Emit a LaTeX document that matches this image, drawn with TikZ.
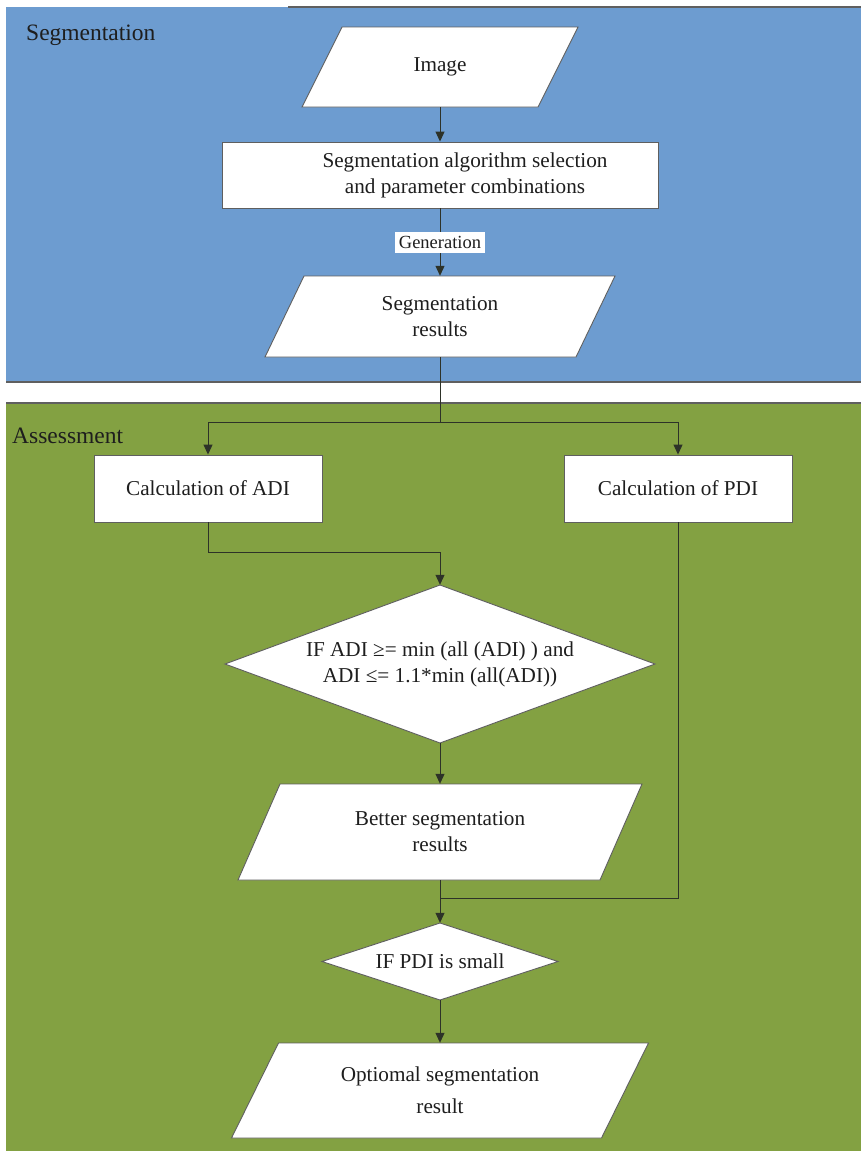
\documentclass[tikz,border=0pt]{standalone}
\usepackage{fontspec}
\setmainfont{Liberation Serif}
\usetikzlibrary{arrows.meta,calc}
\definecolor{segblue}{RGB}{109,156,208}
\definecolor{assgreen}{RGB}{131,161,66}
\definecolor{edgegray}{RGB}{95,95,95}
\definecolor{wirecol}{RGB}{45,50,40}
\definecolor{txtcol}{RGB}{30,30,30}
\tikzset{
  boxline/.style={fill=white, draw=edgegray, line width=0.9pt},
  txt/.style={inner sep=0pt, align=center, text=txtcol, font=\fontsize{21.2}{26}\selectfont},
  rectbox/.style={boxline, txt},
  paneltitle/.style={inner sep=0pt, text=txtcol, font=\fontsize{23.5}{28}\selectfont},
  panelline/.style={draw=edgegray, line width=1.2pt},
  wire/.style={draw=wirecol, line width=1pt},
  arr/.style={wire, -{Triangle[width=9pt,length=10pt]}},
  genlabel/.style={fill=white, inner xsep=3.5pt, inner ysep=0pt, minimum height=21pt, text=txtcol, font=\fontsize{18.5}{22}\selectfont}
}
% parallelogram: name, cx, cy, edge width, height, slant, text
\newcommand\paraio[7]{%
  \coordinate (#1-c) at (#2,#3);
  \draw[boxline] ($(#1-c)+({-(#4)/2-(#6)/2},{(#5)/2})$) -- ($(#1-c)+({-(#4)/2+(#6)/2},{-(#5)/2})$) -- ($(#1-c)+({(#4)/2+(#6)/2},{-(#5)/2})$) -- ($(#1-c)+({(#4)/2-(#6)/2},{(#5)/2})$) -- cycle;
  \node[txt, minimum width=#4, minimum height=#5] (#1) at (#1-c) {#7};
}
% decision diamond: name, cx, cy, width, height, text
\newcommand\decis[6]{%
  \coordinate (#1-c) at (#2,#3);
  \draw[boxline] ($(#1-c)+(0,{-(#5)/2})$) -- ($(#1-c)+({(#4)/2},0)$) -- ($(#1-c)+(0,{(#5)/2})$) -- ($(#1-c)+({-(#4)/2},0)$) -- cycle;
  \node[txt, minimum width=#4, minimum height=#5] (#1) at (#1-c) {#6};
}
\begin{document}
\begin{tikzpicture}[x=1pt,y=-1pt]
\useasboundingbox (0,0) rectangle (861,1151);
% panels
\fill[segblue] (6,7) rectangle (861,382);
\fill[assgreen] (6,403) rectangle (861,1151);
\draw[panelline] (6,382) -- (861,382);
\draw[panelline] (6,403) -- (861,403);
\draw[panelline] (288,7) -- (861,7);
\node[paneltitle, anchor=base west] (segtitle) at (26,40) {Segmentation};
\node[paneltitle, anchor=base west] (asstitle) at (12,443) {Assessment};

% segmentation part
\paraio{img}{440}{67}{236}{80}{40}{Image}
\node[boxline, minimum width=436, minimum height=66] (sa) at (440,175) {};
\node[txt] (satext) at (465,175) {Segmentation algorithm selection\\and parameter combinations};
\paraio{segres}{440}{316.5}{311}{81}{39}{Segmentation\\results}

% assessment part
\node[rectbox, minimum width=228, minimum height=67] (adi) at (208,488.5) {Calculation of ADI};
\node[rectbox, minimum width=228, minimum height=67] (pdi) at (678,488.5) {Calculation of PDI};
\decis{d1}{440}{664}{430}{158}{IF ADI ≥= min (all (ADI) ) and\\ADI ≤= 1.1*min (all(ADI))}
\paraio{better}{440}{832}{362}{96}{42}{Better segmentation\\results}
\decis{d2}{440}{961.5}{236}{77}{IF PDI is small}
\paraio{opt}{440}{1090.5}{370}{95}{47}{Optiomal segmentation\\[6pt]result}

% junction points
\coordinate (split) at (440,422);
\coordinate (j1) at (440,552);
\coordinate (j2) at (440,898);

% connectors
\draw[arr] (img.south) -- (sa.north);
\draw[arr] (sa.south) -- (segres.north);
\node[genlabel] (gen) at ($(sa.south)!0.5!(segres.north)$) {Generation};
\draw[wire] (segres.south) -- (split);
\draw[arr] (split) -| (adi.north);
\draw[arr] (split) -| (pdi.north);
\draw[arr] (adi.south) |- (j1) -- (d1.north);
\draw[arr] (d1.south) -- (better.north);
\draw[wire] (pdi.south) |- (j2);
\draw[arr] (better.south) -- (d2.north);
\draw[arr] (d2.south) -- (opt.north);
\end{tikzpicture}
\end{document}
